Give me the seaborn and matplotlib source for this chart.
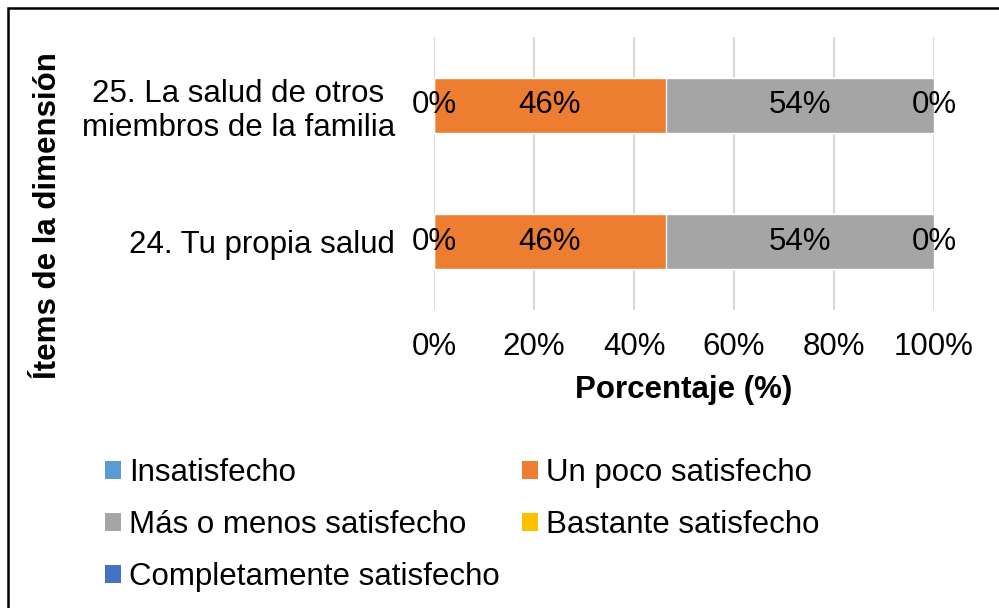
import pandas as pd
import seaborn as sns
import matplotlib.pyplot as plt
from matplotlib.patches import Patch, Rectangle

# Data (percent of respondents)
items = ['25. La salud de otros\nmiembros de la familia', '24. Tu propia salud']
series = ['Insatisfecho', 'Un poco satisfecho', 'Más o menos satisfecho',
          'Bastante satisfecho', 'Completamente satisfecho']
insatisfecho = [0.0, 0.0]
un_poco = [46.3, 46.3]
mas_o_menos = [53.7, 53.7]
bastante = [0.0, 0.0]
completamente = [0.0, 0.0]
colors = ['#5B9BD5', '#ED7D31', '#A5A5A5', '#FFC000', '#4472C4']
xticks = [0, 20, 40, 60, 80, 100]

sns.set_theme(style='white')
plt.rcParams['font.family'] = ['Liberation Sans', 'DejaVu Sans']
plt.rcParams['text.color'] = 'black'
plt.rcParams['axes.labelcolor'] = 'black'
plt.rcParams['xtick.color'] = 'black'
plt.rcParams['ytick.color'] = 'black'
fs = 22.5

df = pd.DataFrame({'item': items,
                   series[0]: insatisfecho,
                   series[1]: un_poco,
                   series[2]: mas_o_menos,
                   series[3]: bastante,
                   series[4]: completamente})
cum = df[series].cumsum(axis=1)
left = cum - df[series]

fig = plt.figure(figsize=(9.99, 6.08), dpi=100)
ax = fig.add_axes([434/999, 1-310/608, 500/999, 273/608])

# stacked bars: draw cumulative totals from the last series back to the first
for i in range(len(series)-1, -1, -1):
    sns.barplot(data=cum.assign(item=df['item']), x=series[i], y='item', order=items,
                color=colors[i], width=0.4, errorbar=None, saturation=1,
                ax=ax, zorder=3)

# segment labels, centred on each segment
for i in range(4):
    for j in range(len(items)):
        val = df[series[i]][j]
        ax.text(left[series[i]][j] + val/2, j, f'{val:.0f}%', ha='center', va='center',
                fontsize=fs, color='black', zorder=5)

ax.set_xlim(0, 100)
ax.set_ylim(1.5, -0.5)
ax.set_xticks(xticks)
ax.set_xticklabels([f'{t}%' for t in xticks])
ax.xaxis.grid(True, color='#d9d9d9', linewidth=1.5, zorder=0)
ax.set_axisbelow(True)
for s in ax.spines.values():
    s.set_visible(False)
ax.tick_params(axis='x', length=0, pad=16, labelsize=fs)
ax.tick_params(axis='y', length=0, pad=28, labelsize=fs)
for lab in ax.get_yticklabels():
    lab.set_multialignment('center')
ax.set_ylabel('')
ax.set_xlabel('Porcentaje (%)', fontsize=fs, fontweight='bold', labelpad=9)

fig.text(48/999, 1-216/608, 'Ítems de la dimensión', rotation=90, ha='center', va='center',
         fontsize=fs, fontweight='bold')

handles = [Patch(facecolor=c, edgecolor='none') for c in colors]
order = [0, 2, 4, 1, 3]
fig.legend([handles[k] for k in order], [series[k] for k in order], ncol=2,
           loc='upper left', bbox_to_anchor=(105/999, 1-458/608), frameon=False,
           fontsize=fs, handlelength=0.51, handleheight=0.51, handletextpad=0.26,
           columnspacing=0.7, labelspacing=0.7, borderpad=0, borderaxespad=0)

fig.add_artist(Rectangle((8/999, -0.05), 1.2, 1-8/608+0.05, transform=fig.transFigure,
                         fill=False, edgecolor='black', linewidth=1.8))

fig.savefig('out.png', dpi=100)
